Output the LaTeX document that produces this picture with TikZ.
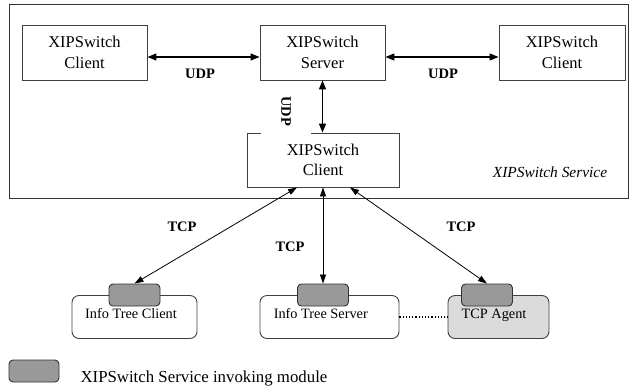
\documentclass[tikz,border=0pt]{standalone}
\usepackage{fontspec}
\setmainfont{Liberation Serif}
\usetikzlibrary{arrows.meta,calc,positioning}

\begin{document}
\begin{tikzpicture}
    	[x=1pt, y=-1pt,
    		box/.style={
    		  rectangle,
    		  draw=black!75,
    		  fill=white,
    		  line width=0.9pt,
    		  align=center,
    		  minimum height=55pt,
    		  font=\fontsize{16.5}{20.5}\selectfont
    		},
    		tree/.style={
    		  rectangle,
    		  draw=black!75,
    		  line width=0.9pt,
    		  rounded corners=7pt,
    		  minimum height=43pt
    		},
    		treetext/.style={font=\fontsize{14.3}{17}\selectfont},
    		tab/.style={
    		  rectangle,
    		  draw=black!80,
    		  fill=black!40,
    		  line width=0.9pt,
    		  rounded corners=4pt,
    		  minimum width=51pt,
    		  minimum height=22pt
    		},
    		proto/.style={font=\fontsize{14.5}{17}\selectfont\bfseries},
    		udp/.style={{Triangle[length=9pt,width=7pt]}-{Triangle[length=9pt,width=7pt]}, line width=1.2pt},
    		tcp/.style={{Triangle[length=9pt,width=6pt]}-{Triangle[length=9pt,width=6pt]}, line width=0.8pt}
    	]
    	\useasboundingbox (0,0) rectangle (629,389);

    	% XIPSwitch service
    	\draw[draw=black!80, line width=0.9pt] (9,4) rectangle (628,198);
    	\draw (84.5,52.5) node[box, minimum width=125pt] (lcl) {XIPSwitch\\Client};
    	\draw (322.5,52.5) node[box, minimum width=125pt] (srv) {XIPSwitch\\Server};
    	\draw (562,52.5) node[box, minimum width=126pt] (rcl) {XIPSwitch\\Client};
    	\draw (323,160) node[box, minimum width=152pt, minimum height=54pt] (ccl) {XIPSwitch\\Client};
    	\draw (550,172) node[font=\fontsize{15.4}{18}\selectfont\itshape] (svc) {XIPSwitch Service};

    	\draw[udp] ([yshift=-4.5pt]lcl.east) -- ([yshift=-4.5pt]srv.west);
    	\draw (200,74) node[proto] (udpa) {UDP};
    	\draw[udp] ([yshift=-4.5pt]srv.east) -- ([yshift=-4.5pt]rcl.west);
    	\draw (443,74) node[proto] (udpb) {UDP};
    	\draw (286,111) node[proto, rotate=-90, fill=white, minimum width=46pt, minimum height=50pt] (udpc) {UDP};
    	\draw[udp, line width=1.6pt] (srv.south) -- (srv.south |- ccl.north);

    	% info tree side
    	\draw (134.5,317) node[tree, minimum width=125pt,
    	  label={[treetext, xshift=-3.5pt, yshift=3pt]center:Info Tree Client}] (itc) {};
    	\draw (329.5,317) node[tree, minimum width=139pt,
    	  label={[treetext, xshift=-8.7pt, yshift=3pt]center:Info Tree Server}] (its) {};
    	\draw (498.5,317) node[tree, fill=black!14, minimum width=101pt,
    	  label={[treetext, xshift=-4.5pt, yshift=2pt]center:TCP Agent}] (agt) {};
    	\draw (134.5,295) node[tab] (tabc) {};
    	\draw (323,295) node[tab] (tabs) {};
    	\draw (487,295) node[tab] (taba) {};
    	\draw[dotted, line width=1.2pt] (its.east) -- (agt.west);

    	\draw[tcp] ([xshift=-26pt]ccl.south) -- (tabc.north);
    	\draw[tcp] (ccl.south) -- (tabs.north);
    	\draw[tcp] ([xshift=27pt]ccl.south) -- (taba.north);
    	\draw (182,227) node[proto] (tcpa) {TCP};
    	\draw (290,247) node[proto] (tcpb) {TCP};
    	\draw (461,227) node[proto] (tcpc) {TCP};

    	% legend
    	\draw (34,371) node[tab, minimum width=50pt] (key) {};
    	\draw (77,378.5) node[anchor=west, font=\fontsize{16.8}{20}\selectfont] (keytext) {XIPSwitch Service invoking module};
    \end{tikzpicture}
\end{document}
